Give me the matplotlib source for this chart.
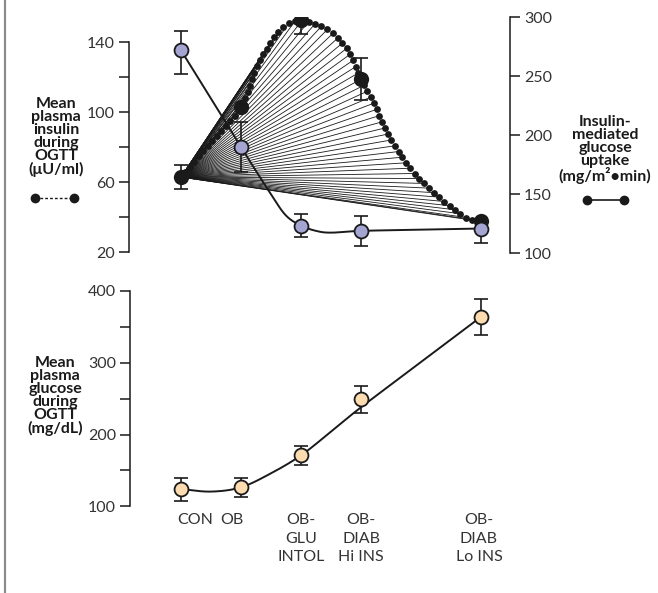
import numpy as np
import matplotlib
matplotlib.use('Agg')
import matplotlib.pyplot as plt
from matplotlib.lines import Line2D
from matplotlib.collections import LineCollection

plt.rcParams['font.family'] = ['Lato', 'DejaVu Sans']

# groups along the x axis
groups = ['CON', 'OB', 'OB-\nGLU\nINTOL', 'OB-\nDIAB\nHi INS', 'OB-\nDIAB\nLo INS']
x_pos = [0, 1, 2, 3, 5]
label_shift = [10, -6.5, 0, 0, -1.5]   # points, x labels are not centred under CON / OB

# top panel: insulin (left axis) and glucose uptake (right axis)
insulin = [63, 103, 152.5, 119, 38]
insulin_err = [7, 0, 8, 12, 0]
uptake = [272, 190, 123.5, 119, 121]
uptake_err_low = [20, 21, 10, 13, 12]
uptake_err_high = [16, 21, 10, 13, 0]

# bottom panel: glucose
glucose = [124, 126.5, 171, 249, 364]
glucose_err = [16, 13.5, 13, 19, 25]

# curves as drawn in the figure (read between the group points)
insulin_curve_x = [0, 0.5, 1, 1.2, 1.35, 1.6, 1.8, 2, 2.2, 2.5, 2.75, 2.9, 3, 3.2, 3.4, 3.6, 3.8, 4, 4.25, 4.5, 4.8, 5]
insulin_curve_y = [63, 83, 103, 121, 132, 145, 151, 152.5, 151, 146, 137, 127, 119, 106, 91, 79, 69, 61, 53, 46, 39, 38]
uptake_curve_x = [0, 1, 1.5, 1.75, 2, 2.25, 2.5, 3, 4, 5]
uptake_curve_y = [272, 190, 150, 132, 123.5, 119, 117.5, 119, 120, 121]
glucose_curve_x = [0, 0.5, 1, 1.5, 2, 2.5, 3, 4, 5]
glucose_curve_y = [124, 120.5, 126.5, 146, 171, 204, 238, 301, 364]

LAVENDER = '#a5a5d3'
PEACH = '#fddcb0'
INK = '#1a1a1a'
TXT = '#333333'


def smooth(xs, ys, n=16):
    # catmull-rom through the traced points
    p = np.column_stack([xs, ys]).astype(float)
    p = np.vstack([2 * p[0] - p[1], p, 2 * p[-1] - p[-2]])
    t = np.linspace(0, 1, n, endpoint=False)[:, None]
    out = []
    for i in range(1, len(p) - 2):
        p0, p1, p2, p3 = p[i - 1], p[i], p[i + 1], p[i + 2]
        seg = 0.5 * (2 * p1 + (-p0 + p2) * t + (2 * p0 - 5 * p1 + 4 * p2 - p3) * t ** 2
                     + (-p0 + 3 * p1 - 3 * p2 + p3) * t ** 3)
        out.append(seg)
    out.append(p[-2][None, :])
    out = np.vstack(out)
    return out[:, 0], out[:, 1]


def style_axis(ax, side):
    for s in ['top', 'bottom', 'left', 'right']:
        ax.spines[s].set_visible(s == side)
    ax.spines[side].set_linewidth(1.1)
    ax.spines[side].set_color(INK)
    ax.set_xticks([])
    ax.tick_params(axis='y', which='both', length=7, width=1.1, color=INK,
                   labelsize=11.5, labelcolor=TXT, pad=3)


fig = plt.figure(figsize=(6.58, 5.93), dpi=100)
W, H = 658.0, 593.0

# ---- top panel
ax = fig.add_axes([128.5 / W, 1 - 253.3 / H, 381.5 / W, 236 / H])
ax.set_xlim(-0.875, 5.483)
ax.set_ylim(19.43, 154.3)
style_axis(ax, 'left')
ax.spines['left'].set_bounds(20, 140)
ax.set_yticks([20, 60, 100, 140])
ax.set_yticks([40, 80, 120], minor=True)
ax.patch.set_alpha(0)

ax_r = ax.twinx()
ax_r.set_ylim(100, 300)
style_axis(ax_r, 'right')
ax_r.set_yticks([100, 150, 200, 250, 300])

# dotted insulin curve, dots evenly spaced along the drawn path
cx, cy = smooth(insulin_curve_x, insulin_curve_y, 30)
pix = ax.transData.transform(np.column_stack([cx, cy]))
seg = np.hypot(np.diff(pix[:, 0]), np.diff(pix[:, 1]))
arc = np.concatenate([[0], np.cumsum(seg)])
s = np.arange(0, arc[-1], 6.8)
dots_pix = np.column_stack([np.interp(s, arc, pix[:, 0]), np.interp(s, arc, pix[:, 1])])
dots = ax.transData.inverted().transform(dots_pix)

origin = (x_pos[0], insulin[0])
fan = LineCollection([[origin, (dx, dy)] for dx, dy in dots], colors=INK, linewidths=0.6, zorder=2)
ax.add_collection(fan)
ax.plot(dots[:, 0], dots[:, 1], 'o', ms=4.9, color=INK, mew=0, zorder=3)
ax.errorbar(x_pos, insulin, yerr=insulin_err, fmt='none', ecolor=INK, elinewidth=1.2,
            capsize=5, capthick=1.2, zorder=3)
ax.plot(x_pos, insulin, 'o', ms=11, color=INK, mew=0, zorder=4)

# glucose uptake
ux, uy = smooth(uptake_curve_x, uptake_curve_y, 20)
ax_r.plot(ux, uy, color=INK, lw=1.4, zorder=2)
ax_r.errorbar(x_pos, uptake, yerr=[uptake_err_low, uptake_err_high], fmt='none', ecolor=INK,
              elinewidth=1.2, capsize=5, capthick=1.2, zorder=3)
ax_r.plot(x_pos, uptake, 'o', ms=10, mfc=LAVENDER, mec=INK, mew=1.3, zorder=4)

# ---- bottom panel
axb = fig.add_axes([130 / W, 1 - 506.3 / H, 380 / W, 215.3 / H])
axb.set_xlim(-0.85, 5.483)
axb.set_ylim(100, 400)
style_axis(axb, 'left')
axb.set_yticks([100, 200, 300, 400])
axb.set_yticks([150, 250, 350], minor=True)
axb.patch.set_alpha(0)

gx, gy = smooth(glucose_curve_x, glucose_curve_y, 20)
axb.plot(gx, gy, color=INK, lw=1.4, zorder=2)
axb.errorbar(x_pos, glucose, yerr=glucose_err, fmt='none', ecolor=INK, elinewidth=1.2,
             capsize=5, capthick=1.2, zorder=3)
axb.plot(x_pos, glucose, 'o', ms=10, mfc=PEACH, mec=INK, mew=1.3, zorder=4)

for x, name, dx in zip(x_pos, groups, label_shift):
    axb.annotate(name, xy=(x, 0), xycoords=axb.get_xaxis_transform(),
                 xytext=(dx, -5), textcoords='offset points', ha='center', va='top',
                 fontsize=11.5, color=TXT, linespacing=1.4, annotation_clip=False)

# ---- axis titles and little legend keys
bold = dict(fontweight='bold', color=INK, ha='center', va='center', linespacing=0.9)
fig.text(56 / W, 1 - 137 / H, 'Mean\nplasma\ninsulin\nduring\nOGTT\n(\u03bcU/ml)', fontsize=11.5, **bold)
fig.text(605 / W, 1 - 149.5 / H, 'Insulin-\nmediated\nglucose\nuptake\n(mg/m\u00b2\u2022min)', fontsize=11.5, **bold)
fig.text(55 / W, 1 - 396 / H, 'Mean\nplasma\nglucose\nduring\nOGTT\n(mg/dL)', fontsize=11.5, **bold)

fig.add_artist(Line2D([35 / W, 74 / W], [1 - 198 / H] * 2, color=INK, lw=1.0, ls=(0, (2, 1.5))))
fig.add_artist(Line2D([35 / W, 74 / W], [1 - 198 / H] * 2, color=INK, lw=0, marker='o', ms=6))
fig.add_artist(Line2D([587 / W, 624 / W], [1 - 200 / H] * 2, color=INK, lw=1.2, marker='o', ms=6))

# grey rule on the left edge
fig.add_artist(Line2D([4.5 / W] * 2, [0, 1], color='#8c8c8c', lw=1.6))

plt.savefig('out.png', dpi=100, facecolor='white')
plt.close()
